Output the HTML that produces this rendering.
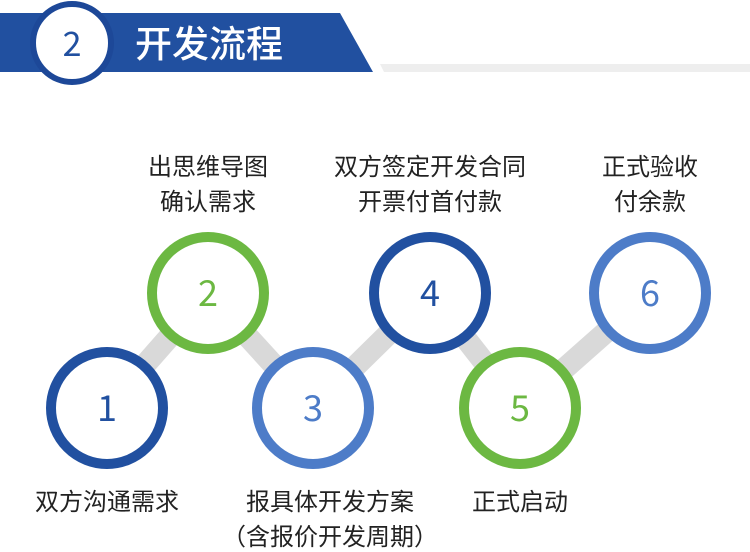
<!DOCTYPE html>
<html><head><meta charset="utf-8"><style>
body{margin:0;width:750px;height:549px;background:#fff;overflow:hidden;font-family:"Liberation Sans","Noto Sans CJK SC",sans-serif}
.t{position:absolute;font-size:24px;color:#222;text-align:center;line-height:35px;white-space:nowrap;transform:translateX(-50%);font-family:"Noto Sans CJK SC",sans-serif}
</style></head><body>
<svg width="750" height="549" style="position:absolute;left:0;top:0">
<polygon points="0,13 340,13 373,72 0,72" fill="#2150a0"/>
<polygon points="380,64 750,64 750,72 384,72" fill="#eeeeee"/>
<circle cx="72" cy="43" r="39" fill="#fff" stroke="#1d4898" stroke-width="6"/>
<text x="72" y="56" font-size="34" fill="#2150a0" text-anchor="middle" font-family="Noto Sans CJK SC,sans-serif">2</text>
<text x="135" y="57" font-size="37" fill="#fff" font-weight="500" font-family="Noto Sans CJK SC,sans-serif">开发流程</text>
<g stroke="#d9d9d9" stroke-width="22">
<line x1="107" y1="408" x2="208" y2="293"/><line x1="208" y1="293" x2="313" y2="408"/>
<line x1="313" y1="408" x2="430" y2="293"/><line x1="430" y1="293" x2="520" y2="408"/>
<line x1="520" y1="408" x2="650" y2="293"/>
</g>
<g fill="#fff" stroke-width="10">
<circle cx="107" cy="408" r="56" stroke="#2150a0"/>
<circle cx="208" cy="293" r="56" stroke="#6cb842"/>
<circle cx="313" cy="408" r="56" stroke="#4d7cc8"/>
<circle cx="430" cy="293" r="56" stroke="#2150a0"/>
<circle cx="520" cy="408" r="56" stroke="#6cb842"/>
<circle cx="650" cy="293" r="56" stroke="#4d7cc8"/>
</g>
<g font-size="36" text-anchor="middle" font-family="Noto Sans CJK SC,sans-serif">
<text x="107" y="421" fill="#2150a0">1</text>
<text x="208" y="306" fill="#6cb842">2</text>
<text x="313" y="421" fill="#4d7cc8">3</text>
<text x="430" y="306" fill="#2150a0">4</text>
<text x="520" y="421" fill="#6cb842">5</text>
<text x="650" y="306" fill="#4d7cc8">6</text>
</g>
</svg>
<div class="t" style="left:208px;top:147px">出思维导图<br>确认需求</div>
<div class="t" style="left:430px;top:147px">双方签定开发合同<br>开票付首付款</div>
<div class="t" style="left:650px;top:147px">正式验收<br>付余款</div>
<div class="t" style="left:107px;top:482px">双方沟通需求</div>
<div class="t" style="left:330px;top:482px">报具体开发方案<br>（含报价开发周期）</div>
<div class="t" style="left:520px;top:482px">正式启动</div>
</body></html>
